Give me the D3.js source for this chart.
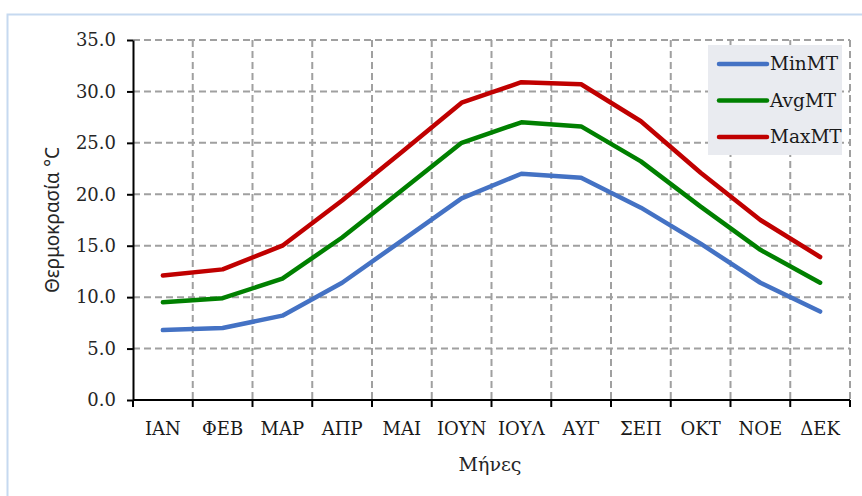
<!DOCTYPE html>
<html>
<head>
<meta charset="utf-8">
<script src="https://cdn.jsdelivr.net/npm/d3@7"></script>
<style>
  body { margin: 0; background: #fff; }
  svg { display: block; }
</style>
</head>
<body>
<script>

// months and series values (°C)
var months = ["ΙΑΝ", "ΦΕΒ", "ΜΑΡ", "ΑΠΡ", "ΜΑΙ", "ΙΟΥΝ", "ΙΟΥΛ", "ΑΥΓ", "ΣΕΠ", "ΟΚΤ", "ΝΟΕ", "ΔΕΚ"];
var minMT = [6.8, 7.0, 8.2, 11.4, 15.5, 19.6, 22.0, 21.6, 18.7, 15.2, 11.4, 8.6];
var avgMT = [9.5, 9.9, 11.8, 15.8, 20.4, 25.0, 27.0, 26.6, 23.2, 18.8, 14.6, 11.4];
var maxMT = [12.1, 12.7, 15.0, 19.4, 24.1, 28.9, 30.9, 30.7, 27.1, 22.1, 17.5, 13.9];
var seriesNames = ["MinMT", "AvgMT", "MaxMT"];
var seriesColors = ["#4472c4", "#008000", "#c00000"];
var yTicks = [0, 5, 10, 15, 20, 25, 30, 35];

var width = 862, height = 496;
var margin = {left: 133, right: 12, top: 40, bottom: 96};
var serif = "'DejaVu Serif', serif";

var svg = d3.select("body").append("svg")
    .attr("width", width)
    .attr("height", height);

// outer chart border (runs off the right and bottom of the picture)
svg.append("rect")
    .attr("x", 7.5).attr("y", 14.5)
    .attr("width", 900).attr("height", 600)
    .style("fill", "none")
    .style("stroke", "#c6d9f0")
    .style("stroke-width", 2);

var x = d3.scaleBand()
    .domain(months)
    .range([margin.left, width - margin.right]);

var y = d3.scaleLinear()
    .domain([0, 35])
    .range([height - margin.bottom, margin.top]);

// grid
var grid = svg.append("g").attr("class", "grid");
grid.selectAll(".hgrid")
    .data(yTicks.filter(function(d) { return d > 0; }))
  .enter().append("line")
    .attr("x1", x.range()[0]).attr("x2", x.range()[1])
    .attr("y1", function(d) { return y(d); })
    .attr("y2", function(d) { return y(d); })
    .style("stroke", "#a0a0a0")
    .style("stroke-width", 2)
    .style("stroke-dasharray", "7,4");

var bounds = months.map(function(m) { return x(m) + x.bandwidth(); });
grid.selectAll(".vgrid")
    .data(bounds)
  .enter().append("line")
    .attr("x1", function(d) { return d; })
    .attr("x2", function(d) { return d; })
    .attr("y1", y(35)).attr("y2", y(0))
    .style("stroke", "#a0a0a0")
    .style("stroke-width", 2)
    .style("stroke-dasharray", "7,4");

// y axis
var yAxis = svg.append("g")
    .attr("transform", "translate(" + margin.left + ",0)")
    .call(d3.axisLeft(y).tickValues(yTicks).tickSize(6).tickSizeOuter(0).tickFormat(d3.format(".1f")));
yAxis.select(".domain").style("stroke", "#000").style("stroke-width", 2);
yAxis.selectAll(".tick line").style("stroke", "#000").style("stroke-width", 2);
yAxis.selectAll("text")
    .attr("x", -17)
    .style("font-family", serif)
    .style("font-size", "18px")
    .style("fill", "#262626");

// x axis, ticks at band boundaries
var xAxis = svg.append("g")
    .attr("transform", "translate(0," + y(0) + ")");
xAxis.append("line")
    .attr("x1", x.range()[0]).attr("x2", x.range()[1])
    .style("stroke", "#000").style("stroke-width", 2);
xAxis.selectAll(".xtick")
    .data([x.range()[0]].concat(bounds))
  .enter().append("line")
    .attr("x1", function(d) { return d; })
    .attr("x2", function(d) { return d; })
    .attr("y1", 0).attr("y2", 7)
    .style("stroke", "#000").style("stroke-width", 2);
xAxis.selectAll(".xlabel")
    .data(months)
  .enter().append("text")
    .attr("x", function(d) { return x(d) + x.bandwidth() / 2; })
    .attr("y", 35)
    .attr("text-anchor", "middle")
    .style("font-family", serif)
    .style("font-size", "18px")
    .style("fill", "#1a1a1a")
    .text(function(d) { return d; });

// axis titles
svg.append("text")
    .attr("transform", "translate(59,220) rotate(-90)")
    .attr("text-anchor", "middle")
    .style("font-family", "'Noto Sans', sans-serif")
    .style("font-size", "19px")
    .style("fill", "#262626")
    .text("Θερμοκρασία °C");

svg.append("text")
    .attr("x", 490).attr("y", 471)
    .attr("text-anchor", "middle")
    .style("font-family", serif)
    .style("font-size", "19px")
    .style("fill", "#262626")
    .text("Μήνες");

// lines
var line = d3.line()
    .x(function(d, i) { return x(months[i]) + x.bandwidth() / 2; })
    .y(function(d) { return y(d); });

[minMT, avgMT, maxMT].forEach(function(vals, k) {
  svg.append("path")
      .datum(vals)
      .attr("d", line)
      .style("fill", "none")
      .style("stroke", seriesColors[k])
      .style("stroke-width", 4.5)
      .style("stroke-linecap", "round")
      .style("stroke-linejoin", "round");
});

// legend
var legend = svg.append("g").attr("transform", "translate(708,45)");
legend.append("rect")
    .attr("width", 134).attr("height", 110)
    .style("fill", "#e9ebf0");
var rows = legend.selectAll(".row")
    .data(seriesNames)
  .enter().append("g")
    .attr("transform", function(d, i) { return "translate(0," + (19 + i * 36.5) + ")"; });
rows.append("line")
    .attr("x1", 11).attr("x2", 59)
    .style("stroke", function(d, i) { return seriesColors[i]; })
    .style("stroke-width", 4.5)
    .style("stroke-linecap", "round");
rows.append("text")
    .attr("x", 62).attr("y", 6)
    .style("font-family", serif)
    .style("font-size", "18.5px")
    .style("fill", "#1a1a1a")
    .text(function(d) { return d; });

</script>
</body>
</html>
